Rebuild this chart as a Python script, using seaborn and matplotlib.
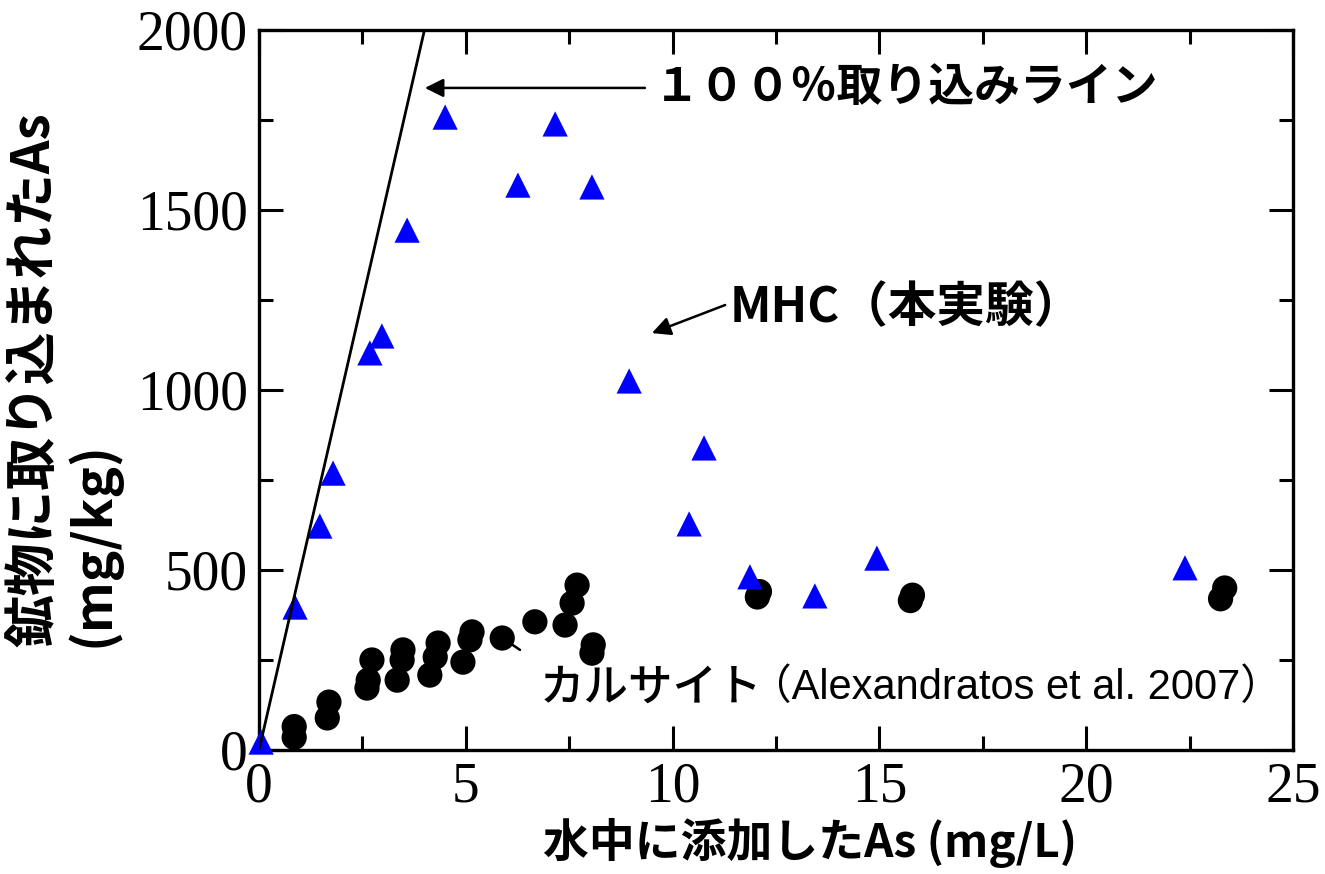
import matplotlib
matplotlib.use('Agg')
import pandas as pd
import seaborn as sns
from matplotlib import pyplot as plt

# MHC (this experiment) - blue triangles
mhc_x = [0.05, 0.87, 1.47, 1.79, 2.68, 2.97, 3.58, 4.50, 6.26, 7.16, 8.05, 8.95,
         10.40, 10.76, 11.87, 13.44, 14.94, 22.39]
mhc_y = [22, 397, 622, 769, 1103, 1150, 1444, 1758, 1569, 1739, 1564, 1025,
         628, 839, 481, 428, 533, 506]

# calcite (Alexandratos et al. 2007) - black circles
calc_x = [0.85, 0.85, 1.69, 1.65, 2.73, 2.64, 2.61, 3.48, 3.46, 3.34, 4.33, 4.26,
          4.13, 5.15, 5.10, 4.93, 5.88, 6.67, 7.40, 7.57, 7.69, 8.08, 8.05,
          12.10, 12.05, 15.80, 15.75, 23.35, 23.25]
calc_y = [65, 35, 133, 89, 250, 194, 172, 278, 250, 194, 297, 258,
          208, 328, 306, 244, 311, 356, 347, 408, 458, 292, 269,
          440, 425, 430, 415, 450, 420]

# 100% uptake line
line_x = [0, 4]
line_y = [0, 2000]

x_ticks = [0, 5, 10, 15, 20, 25]
y_ticks = [0, 500, 1000, 1500, 2000]

sns.set_style('ticks')
plt.rcParams['font.family'] = ['Noto Sans CJK JP', 'DejaVu Sans']
plt.rcParams['text.color'] = 'black'
plt.rcParams['axes.labelcolor'] = 'black'

mhc_df = pd.DataFrame({'x': mhc_x, 'y': mhc_y})
calc_df = pd.DataFrame({'x': calc_x, 'y': calc_y})

fig = plt.figure(figsize=(13.25, 8.74), dpi=100)
ax = fig.add_axes([0.1955, 0.1419, 0.7803, 0.8238])

sns.scatterplot(data=calc_df, x='x', y='y', ax=ax, color='black', marker='o',
                s=330, edgecolor='none', zorder=3)
sns.scatterplot(data=mhc_df, x='x', y='y', ax=ax, color='#0000ff', marker='^',
                s=330, edgecolor='none', zorder=3, clip_on=False)
sns.lineplot(x=line_x, y=line_y, ax=ax, color='black', lw=2, zorder=4)

ax.set_xlim(0, 25)
ax.set_ylim(0, 2000)
ax.set_xticks(x_ticks)
ax.set_yticks(y_ticks)
ax.set_xticks([2.5, 7.5, 12.5, 17.5, 22.5], minor=True)
ax.set_yticks([250, 750, 1250, 1750], minor=True)
ax.tick_params(which='both', direction='in', top=True, right=True, width=2.2,
               color='black', labelcolor='black', labelsize=40, pad=8)
ax.tick_params(which='major', length=17)
ax.tick_params(which='minor', length=10)
for lab in ax.get_xticklabels() + ax.get_yticklabels():
    lab.set_family('Liberation Serif')
for sp in ax.spines.values():
    sp.set_linewidth(2.4)
    sp.set_color('black')

ax.set_xlabel('水中に添加したAs (mg/L)', fontsize=33, fontweight='bold')
ax.xaxis.set_label_coords(0.533, -0.095)
ax.set_ylabel('鉱物に取り込まれたAs\n(mg/kg)', fontsize=38, fontweight='bold',
              multialignment='left', linespacing=1.1)
ax.yaxis.set_label_coords(-0.134, 0.515)

arrow = dict(arrowstyle='-|>', color='black', lw=1.8, mutation_scale=28, shrinkA=0, shrinkB=0)
ax.annotate('', xy=(4.01, 1839), xytext=(9.33, 1839), arrowprops=arrow)
ax.text(9.55, 1839, '１００％取り込みライン', fontsize=33, fontweight='bold', va='center')

ax.annotate('', xy=(9.50, 1158), xytext=(11.27, 1236), arrowprops=arrow)
ax.text(11.39, 1228, 'MHC（本実験）', fontsize=35, fontweight='bold', va='center')

ax.plot([6.31, 5.95], [278, 306], color='black', lw=1.8, zorder=2)
ax.text(6.79, 172, 'カルサイト', fontsize=32, fontweight='medium', va='center')
ax.text(11.88, 172, '（Alexandratos et al. 2007）', fontsize=30, va='center',
        family=['Liberation Sans', 'Noto Sans CJK JP'])

fig.savefig('out.png', dpi=100)
